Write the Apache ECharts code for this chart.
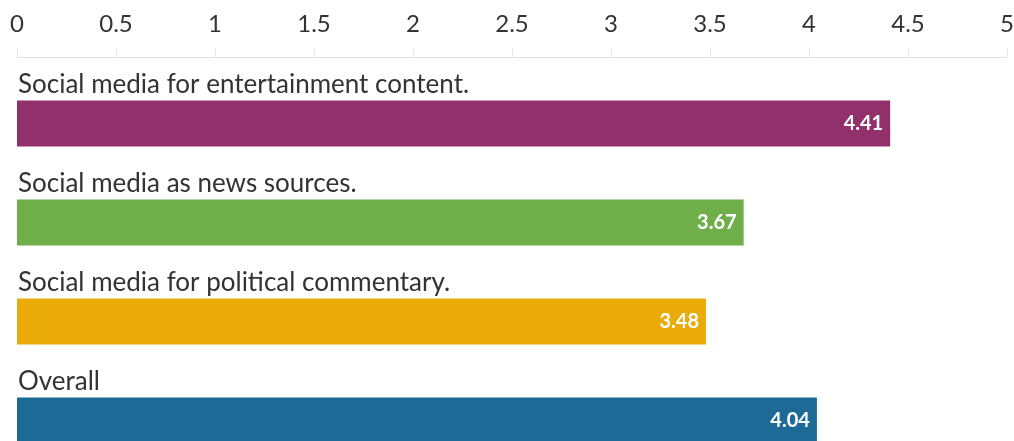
<!DOCTYPE html>
<html><head><meta charset="utf-8">
<script src="https://cdn.jsdelivr.net/npm/echarts@6/dist/echarts.min.js"></script>
<style>html,body{margin:0;padding:0;background:#fff}#c{width:1014px;height:441px}</style>
</head><body><div id="c"></div>
<script>
const categories = ["Social media for entertainment content.", "Social media as news sources.", "Social media for political commentary.", "Overall"];
const values = [4.41, 3.67, 3.48, 4.04];
const colors = ["#91306B", "#70AE4A", "#EBAB0A", "#1E6A96"];
const ticks = [0, 0.5, 1, 1.5, 2, 2.5, 3, 3.5, 4, 4.5, 5];
const FONT = "Lato";
const chart = echarts.init(document.getElementById('c'));
chart.setOption({
  animation: false,
  grid: { left: 17, width: 990, top: 74, height: 396, containLabel: false, outerBoundsMode: 'none' },
  xAxis: {
    type: 'value', position: 'top', min: ticks[0], max: ticks[ticks.length-1], interval: 0.5, offset: 17,
    axisLine: { show: true, lineStyle: { color: '#e3e3e3', width: 1 } },
    axisTick: { show: true, length: 8, lineStyle: { color: '#e3e3e3' } },
    splitLine: { show: false },
    axisLabel: { margin: 21, color: '#333', fontFamily: FONT, fontSize: 24,
      formatter: v => String(v) }
  },
  yAxis: {
    type: 'category', inverse: true, data: categories,
    axisLine: { show: false }, axisTick: { show: false },
    axisLabel: { inside: true, margin: 1, color: '#333', fontFamily: FONT, fontSize: 26,
      verticalAlign: 'bottom', padding: [0, 0, 26, 0] }
  },
  series: [{
    type: 'bar', barWidth: 46,
    data: values.map((v, i) => ({ value: v, itemStyle: { color: colors[i] } })),
    label: { show: true, position: 'insideRight', distance: 7, color: '#fff',
      fontFamily: FONT, fontWeight: 'bold', fontSize: 20, formatter: p => p.value.toFixed(2) }
  }]
});
</script></body></html>
